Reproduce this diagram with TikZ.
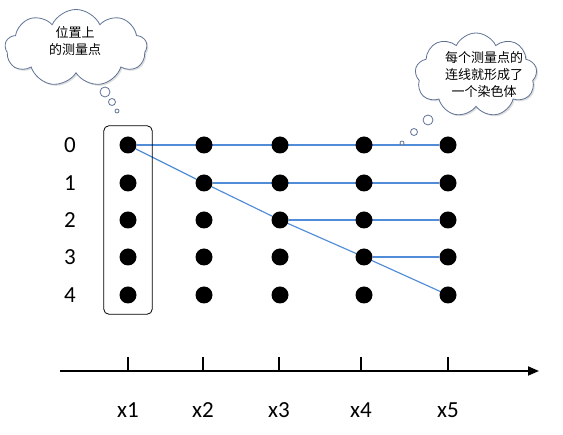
\documentclass[tikz,border=0pt]{standalone}
\usepackage{fontspec}
\setmainfont{Carlito}
\newfontfamily\cjk{Noto Sans CJK SC}
\usetikzlibrary{shapes.symbols,shadows,arrows.meta,fit,backgrounds}
\definecolor{linkblue}{RGB}{80,140,215}
\definecolor{cloudline}{RGB}{95,115,150}
\begin{document}
\begin{tikzpicture}[x=1pt,y=-1pt,
  dot/.style={circle,fill=black,minimum size=17pt,inner sep=0pt},
  link/.style={draw=linkblue,line width=1.15pt},
  thought/.style={cloud,cloud puffs=9,cloud puff arc=130,cloud ignores aspect,draw=cloudline,fill=white,line width=0.8pt,inner sep=0pt,
    drop shadow={shadow xshift=1.5pt,shadow yshift=-1.5pt,opacity=0.25}},
  bubble/.style={circle,draw=cloudline,fill=white,inner sep=0pt,line width=0.8pt},
  cn/.style={font=\cjk\fontsize{13}{17}\selectfont,align=center},
  lab/.style={font=\fontsize{23}{26}\selectfont,inner sep=0pt}]
\useasboundingbox (0,0) rectangle (563,435);
% clouds
\node[thought,minimum width=142pt,minimum height=77pt] (c1) at (76,48) {};
\node[cn] (t1) at (75,41.5) {位置上\\的测量点};
\node[bubble,minimum size=10pt] (b11) at (105,92) {};
\node[bubble,minimum size=7pt] (b12) at (112,102) {};
\node[bubble,minimum size=4pt] (b13) at (117,111) {};
\node[thought,minimum width=122pt,minimum height=84pt] (c2) at (476,75) {};
\node[cn] (t2) at (484,75) {每个测量点的\\连线就形成了\\一个染色体};
\node[bubble,minimum size=10pt] (b21) at (428,120) {};
\node[bubble,minimum size=7pt] (b22) at (414,132) {};
\node[bubble,minimum size=4pt] (b23) at (402,143) {};
% dots
\foreach \x [count=\i] in {128,204,280,364,448} {
  \foreach \y [count=\j from 0] in {145,183,220,257,295} {
    \node[dot] (d\i\j) at (\x,\y) {};
  }
}
% row labels
\foreach \y [count=\j from 0] in {145,183,220,257,295} {
  \node[lab] (r\j) at (70,\y) {\j};
}
% frame around first column
\node[draw,line width=0.8pt,rounded corners=5pt,inner xsep=15.5pt,inner ysep=10.5pt,fit=(d10)(d14)] (frame) {};
% connectors
\begin{pgfonlayer}{background}
\draw[link] (d10) -- (d50);
\draw[link] (d21) -- (d51);
\draw[link] (d32) -- (d52);
\draw[link] (d43) -- (d53);
\draw[link] (d10) -- (d21) -- (d32) -- (d43) -- (d54);
\end{pgfonlayer}
% axis
\coordinate (a0) at (60,371);
\coordinate (a1) at (539,371);
\draw[line width=1.8pt,-{Triangle[length=11pt,width=9pt]}] (a0) -- (a1);
\foreach \x [count=\i] in {128,203,279,361,448} {
  \coordinate (tt\i) at (\x,357);
  \coordinate (tb\i) at (\x,371);
  \draw[line width=1.8pt] (tt\i) -- (tb\i);
  \node[lab] (x\i) at (\x,410) {x\i};
}
\end{tikzpicture}
\end{document}
